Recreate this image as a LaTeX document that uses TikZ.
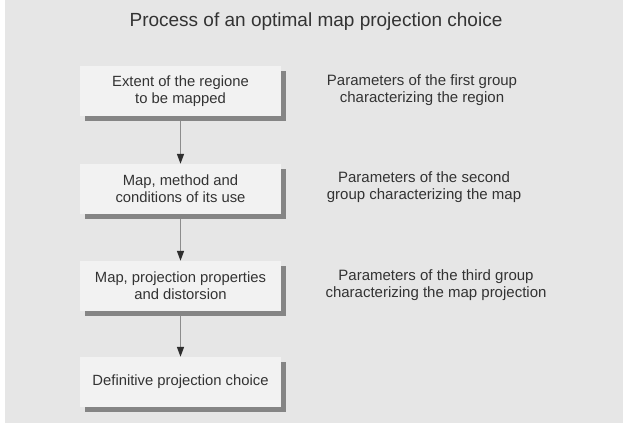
\documentclass[tikz,border=0pt]{standalone}
\usepackage{fontspec}
\setmainfont{Liberation Sans}
\usetikzlibrary{arrows.meta,shadows}
\definecolor{bg}{HTML}{E6E6E6}
\definecolor{boxfill}{HTML}{F2F2F2}
\definecolor{shadowgray}{HTML}{858585}
\definecolor{txt}{HTML}{333333}
\definecolor{linegray}{HTML}{8C8C8C}
\definecolor{tipgray}{HTML}{2E2E2E}
\tikzset{
  stepbox/.style={fill=boxfill, minimum width=201pt, minimum height=50pt,
    align=center, text=txt, inner sep=0pt,
    font=\fontsize{14.8}{17}\selectfont,
    drop shadow={shadow xshift=5pt, shadow yshift=-5pt, fill=shadowgray, opacity=1}},
  param/.style={align=center, text=txt, inner sep=0pt,
    font=\fontsize{15}{17}\selectfont},
  conn/.style={draw=linegray, line width=1.5pt,
    -{Triangle[width=7pt,length=10pt,color=tipgray]}},
}
\begin{document}
\begin{tikzpicture}[x=1pt,y=-1pt]
\useasboundingbox (0,0) rectangle (623,424);
\fill[white] (0,0) rectangle (623,424);
\fill[bg] (5,0) rectangle (623,423);

\node[text=txt, font=\fontsize{19}{22}\selectfont, inner sep=0pt] (title) at (316,22) {Process of an optimal map projection choice};

\node[stepbox] (b1) at (180.5,91) {Extent of the regione\\to be mapped};
\node[stepbox] (b2) at (180.5,189) {Map, method and\\conditions of its use};
\node[stepbox] (b3) at (180.5,286) {Map, projection properties\\and distorsion};
\node[stepbox] (b4) at (180.5,382) {Definitive projection choice};

\node[param] (p1) at (422,90) {Parameters of the first group\\characterizing the region};
\node[param] (p2) at (424,187) {Parameters of the second\\group characterizing the map};
\node[param] (p3) at (436,285) {Parameters of the third group\\characterizing the map projection};

\draw[conn] ([yshift=-5pt]b1.south) -- (b2.north);
\draw[conn] ([yshift=-5pt]b2.south) -- (b3.north);
\draw[conn] ([yshift=-5pt]b3.south) -- (b4.north);
\end{tikzpicture}
\end{document}
